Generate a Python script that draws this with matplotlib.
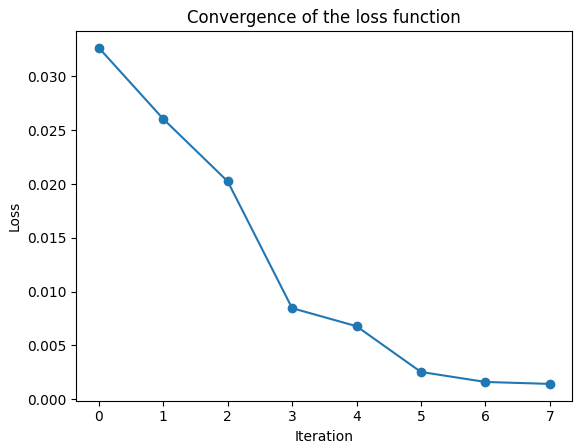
import matplotlib
matplotlib.use("Agg")
import matplotlib.pyplot as plt

# valores
iterations = [0, 1, 2, 3, 4, 5, 6, 7]
loss = [0.03266, 0.02605, 0.02025, 0.00847, 0.00679, 0.00254, 0.00161, 0.00143]

fig = plt.figure(figsize=(5.86, 4.45), dpi=100)
ax = fig.add_axes([76.3 / 586, 1 - 400.7 / 445, (572.3 - 76.3) / 586, (400.7 - 31) / 445])

ax.plot(iterations, loss, marker='o')
ax.set_xlabel("Iteration")
ax.set_ylabel("Loss")
ax.set_title("Convergence of the loss function")

fig.savefig("out.png", dpi=100)
